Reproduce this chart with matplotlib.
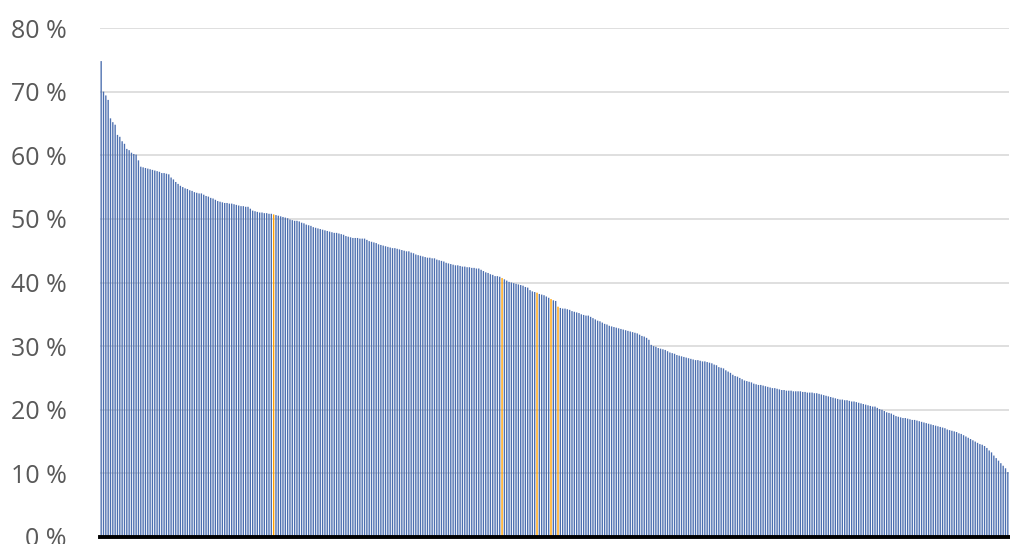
import matplotlib
matplotlib.use("Agg")
import matplotlib.pyplot as plt
import numpy as np

# share per item, sorted high -> low
shares = [
    74.8, 70.0, 69.4, 68.7, 65.8, 65.2, 64.8, 63.2, 62.9, 62.2,
    61.8, 61.0, 60.8, 60.4, 60.2, 60.1, 59.2, 58.2, 58.1, 58.0,
    57.9, 57.8, 57.7, 57.6, 57.5, 57.4, 57.2, 57.2, 57.1, 57.0,
    56.5, 56.2, 55.8, 55.5, 55.2, 55.0, 54.8, 54.7, 54.5, 54.4,
    54.2, 54.1, 54.0, 54.0, 53.8, 53.6, 53.5, 53.3, 53.2, 53.0,
    52.8, 52.7, 52.6, 52.5, 52.5, 52.4, 52.4, 52.3, 52.2, 52.1,
    52.0, 52.0, 51.9, 51.9, 51.6, 51.3, 51.2, 51.1, 51.0, 51.0,
    50.9, 50.9, 50.8, 50.8, 50.7, 50.6, 50.5, 50.4, 50.3, 50.2,
    50.1, 49.9, 49.8, 49.7, 49.7, 49.6, 49.4, 49.3, 49.1, 49.0,
    48.9, 48.7, 48.6, 48.5, 48.4, 48.3, 48.2, 48.1, 48.0, 47.9,
    47.8, 47.8, 47.7, 47.6, 47.5, 47.3, 47.2, 47.1, 47.0, 47.0,
    47.0, 46.9, 46.9, 46.9, 46.7, 46.5, 46.4, 46.3, 46.2, 46.0,
    45.9, 45.8, 45.7, 45.6, 45.5, 45.4, 45.4, 45.3, 45.2, 45.1,
    45.0, 44.9, 44.9, 44.7, 44.6, 44.4, 44.3, 44.2, 44.1, 44.0,
    43.9, 43.9, 43.8, 43.8, 43.6, 43.5, 43.4, 43.3, 43.1, 43.0,
    42.9, 42.8, 42.7, 42.7, 42.6, 42.5, 42.5, 42.4, 42.4, 42.3,
    42.3, 42.2, 42.2, 42.0, 41.8, 41.6, 41.5, 41.3, 41.2, 41.0,
    41.0, 40.9, 40.7, 40.5, 40.3, 40.1, 40.0, 39.9, 39.8, 39.7,
    39.6, 39.5, 39.3, 39.2, 38.8, 38.6, 38.5, 38.4, 38.2, 38.1,
    38.0, 37.8, 37.6, 37.4, 37.2, 37.1, 36.2, 36.0, 35.9, 35.9,
    35.8, 35.7, 35.5, 35.4, 35.3, 35.2, 35.0, 34.9, 34.8, 34.8,
    34.6, 34.4, 34.2, 34.0, 33.9, 33.7, 33.5, 33.4, 33.2, 33.1,
    33.0, 32.9, 32.8, 32.7, 32.6, 32.5, 32.4, 32.3, 32.2, 32.1,
    32.0, 31.8, 31.6, 31.5, 31.3, 31.0, 30.2, 30.0, 29.9, 29.7,
    29.6, 29.5, 29.4, 29.2, 29.0, 28.9, 28.8, 28.6, 28.5, 28.4,
    28.3, 28.2, 28.1, 28.0, 27.9, 27.8, 27.8, 27.7, 27.6, 27.6,
    27.5, 27.4, 27.3, 27.1, 27.0, 26.7, 26.6, 26.5, 26.2, 26.0,
    25.8, 25.5, 25.3, 25.2, 25.0, 24.8, 24.6, 24.5, 24.4, 24.3,
    24.1, 24.0, 23.9, 23.9, 23.8, 23.7, 23.6, 23.5, 23.4, 23.4,
    23.3, 23.2, 23.1, 23.1, 23.0, 23.0, 23.0, 22.9, 22.9, 22.9,
    22.9, 22.8, 22.8, 22.7, 22.7, 22.7, 22.6, 22.6, 22.5, 22.4,
    22.3, 22.2, 22.1, 22.0, 21.9, 21.8, 21.7, 21.6, 21.6, 21.5,
    21.5, 21.4, 21.3, 21.3, 21.2, 21.1, 21.0, 20.9, 20.8, 20.7,
    20.6, 20.5, 20.5, 20.3, 20.1, 20.0, 19.8, 19.6, 19.5, 19.4,
    19.2, 19.0, 18.9, 18.8, 18.7, 18.7, 18.6, 18.5, 18.4, 18.4,
    18.3, 18.2, 18.1, 18.0, 17.9, 17.8, 17.7, 17.6, 17.5, 17.4,
    17.3, 17.2, 17.1, 16.9, 16.8, 16.7, 16.6, 16.5, 16.3, 16.2,
    16.0, 15.8, 15.6, 15.4, 15.2, 15.0, 14.8, 14.6, 14.5, 14.3,
    14.0, 13.6, 13.3, 12.8, 12.4, 12.0, 11.6, 11.2, 10.8, 10.2,
]
# items highlighted in orange
highlight = [74, 172, 187, 193, 196]
y_ticks = [0, 10, 20, 30, 40, 50, 60, 70, 80]

blue = '#4B6EAF'
orange = '#FFA000'

n = len(shares)
x = np.arange(n)
colors = [orange if i in highlight else blue for i in range(n)]

plt.rcParams['font.family'] = ['Open Sans', 'DejaVu Sans']

fig = plt.figure(figsize=(10.10, 5.44), dpi=100)
ax = fig.add_axes([100 / 1010, 7 / 544, 909 / 1010, 509 / 544])

bars = ax.bar(x, shares, width=0.58, color=colors, linewidth=0, zorder=2)
for b in bars:
    b.set_snap(False)

ax.set_xlim(-0.5, n - 0.5)
ax.set_ylim(0, 80)
ax.set_yticks(y_ticks)
ax.set_yticklabels([f'{t} %' for t in y_ticks])
ax.set_xticks([])
ax.tick_params(axis='y', length=0, pad=24, labelsize=18, labelcolor='#595959')

ax.grid(axis='y', color='#D9D9D9', linewidth=1.2, zorder=0)
ax.set_axisbelow(True)

for side in ['left', 'right', 'top']:
    ax.spines[side].set_visible(False)
ax.spines['bottom'].set_color('black')
ax.spines['bottom'].set_linewidth(2.8)
ax.spines['bottom'].set_zorder(3)

fig.savefig('out.png', dpi=100)
